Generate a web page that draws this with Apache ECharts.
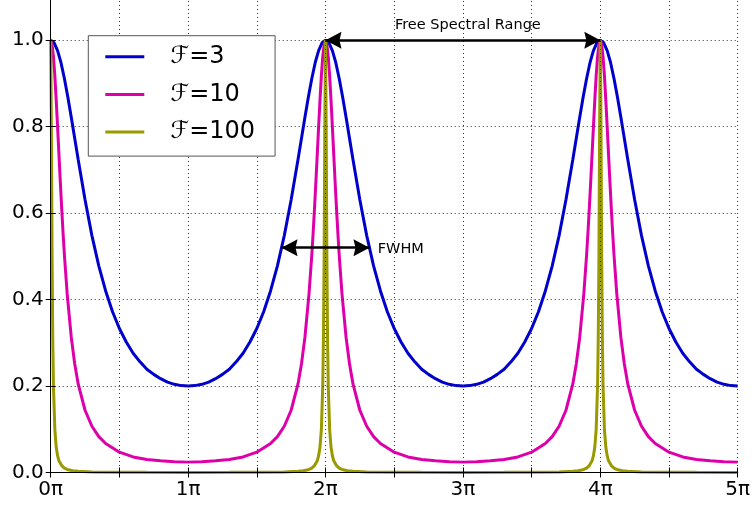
<!DOCTYPE html>
<html>
<head>
<meta charset="utf-8">
<title>Airy transmission</title>
<script src="https://cdn.jsdelivr.net/npm/echarts@6/dist/echarts.min.js"></script>
<style>
  html, body { margin: 0; padding: 0; background: #fff; }
  #chart { width: 755px; height: 507px; }
</style>
</head>
<body>
<div id="chart"></div>
<script>
// phase in units of pi, transmission
const seriesNames = ['ℱ=3', 'ℱ=10', 'ℱ=100'];

const phase3 = [
  0, 0.025, 0.05, 0.075, 0.1, 0.125, 0.15, 0.2, 0.25, 0.3, 0.35, 0.4, 0.45, 0.5, 0.55, 0.6, 0.65, 0.7, 0.75, 0.8, 0.85, 0.9, 0.95,
  1, 1.05, 1.1, 1.15, 1.2, 1.25, 1.3, 1.35, 1.4, 1.45, 1.5, 1.55, 1.6, 1.65, 1.7, 1.75, 1.8, 1.85, 1.875, 1.9, 1.925, 1.95, 1.975,
  2, 2.025, 2.05, 2.075, 2.1, 2.125, 2.15, 2.2, 2.25, 2.3, 2.35, 2.4, 2.45, 2.5, 2.55, 2.6, 2.65, 2.7, 2.75, 2.8, 2.85, 2.9, 2.95,
  3, 3.05, 3.1, 3.15, 3.2, 3.25, 3.3, 3.35, 3.4, 3.45, 3.5, 3.55, 3.6, 3.65, 3.7, 3.75, 3.8, 3.85, 3.875, 3.9, 3.925, 3.95, 3.975,
  4, 4.025, 4.05, 4.075, 4.1, 4.125, 4.15, 4.2, 4.25, 4.3, 4.35, 4.4, 4.45, 4.5, 4.55, 4.6, 4.65, 4.7, 4.75, 4.8, 4.85, 4.9, 4.95,
  5
];
const trans3 = [
  1.000, 0.994, 0.976, 0.948, 0.911, 0.868, 0.821, 0.724, 0.631, 0.548, 0.478, 0.420, 0.372, 0.333, 0.302, 0.276, 0.256, 0.239, 0.227, 0.217, 0.209, 0.204, 0.201,
  0.200, 0.201, 0.204, 0.209, 0.217, 0.227, 0.239, 0.256, 0.276, 0.302, 0.333, 0.372, 0.420, 0.478, 0.548, 0.631, 0.724, 0.821, 0.868, 0.911, 0.948, 0.976, 0.994,
  1.000, 0.994, 0.976, 0.948, 0.911, 0.868, 0.821, 0.724, 0.631, 0.548, 0.478, 0.420, 0.372, 0.333, 0.302, 0.276, 0.256, 0.239, 0.227, 0.217, 0.209, 0.204, 0.201,
  0.200, 0.201, 0.204, 0.209, 0.217, 0.227, 0.239, 0.256, 0.276, 0.302, 0.333, 0.372, 0.420, 0.478, 0.548, 0.631, 0.724, 0.821, 0.868, 0.911, 0.948, 0.976, 0.994,
  1.000, 0.994, 0.976, 0.948, 0.911, 0.868, 0.821, 0.724, 0.631, 0.548, 0.478, 0.420, 0.372, 0.333, 0.302, 0.276, 0.256, 0.239, 0.227, 0.217, 0.209, 0.204, 0.201,
  0.200
];

const phase10 = [
  0, 0.01, 0.02, 0.03, 0.04, 0.05, 0.06, 0.07, 0.08, 0.09, 0.1, 0.12, 0.15, 0.175, 0.2, 0.25, 0.3, 0.35, 0.4, 0.5, 0.6, 0.7, 0.8, 0.9, 1,
  1.1, 1.2, 1.3, 1.4, 1.5, 1.6, 1.65, 1.7, 1.75, 1.8, 1.825, 1.85, 1.88, 1.9, 1.91, 1.92, 1.93, 1.94, 1.95, 1.96, 1.97, 1.98, 1.99, 2,
  2.01, 2.02, 2.03, 2.04, 2.05, 2.06, 2.07, 2.08, 2.09, 2.1, 2.12, 2.15, 2.175, 2.2, 2.25, 2.3, 2.35, 2.4, 2.5, 2.6, 2.7, 2.8, 2.9, 3,
  3.1, 3.2, 3.3, 3.4, 3.5, 3.6, 3.65, 3.7, 3.75, 3.8, 3.825, 3.85, 3.88, 3.9, 3.91, 3.92, 3.93, 3.94, 3.95, 3.96, 3.97, 3.98, 3.99, 4,
  4.01, 4.02, 4.03, 4.04, 4.05, 4.06, 4.07, 4.08, 4.09, 4.1, 4.12, 4.15, 4.175, 4.2, 4.25, 4.3, 4.35, 4.4, 4.5, 4.6, 4.7, 4.8, 4.9, 5
];
const trans10 = [
  1.000, 0.990, 0.962, 0.918, 0.862, 0.800, 0.736, 0.672, 0.611, 0.554, 0.502, 0.413, 0.312, 0.251, 0.205, 0.144, 0.107, 0.083, 0.067, 0.047, 0.036, 0.030, 0.027, 0.025, 0.024,
  0.025, 0.027, 0.030, 0.036, 0.047, 0.067, 0.083, 0.107, 0.144, 0.205, 0.251, 0.312, 0.413, 0.502, 0.554, 0.611, 0.672, 0.736, 0.800, 0.862, 0.918, 0.962, 0.990, 1.000,
  0.990, 0.962, 0.918, 0.862, 0.800, 0.736, 0.672, 0.611, 0.554, 0.502, 0.413, 0.312, 0.251, 0.205, 0.144, 0.107, 0.083, 0.067, 0.047, 0.036, 0.030, 0.027, 0.025, 0.024,
  0.025, 0.027, 0.030, 0.036, 0.047, 0.067, 0.083, 0.107, 0.144, 0.205, 0.251, 0.312, 0.413, 0.502, 0.554, 0.611, 0.672, 0.736, 0.800, 0.862, 0.918, 0.962, 0.990, 1.000,
  0.990, 0.962, 0.918, 0.862, 0.800, 0.736, 0.672, 0.611, 0.554, 0.502, 0.413, 0.312, 0.251, 0.205, 0.144, 0.107, 0.083, 0.067, 0.047, 0.036, 0.030, 0.027, 0.025, 0.024
];

const phase100 = [
  0, 0.005, 0.01, 0.015, 0.02, 0.03, 0.04, 0.05, 0.06, 0.08, 0.1, 0.12, 0.16, 0.2, 0.3, 0.5, 0.7, 1,
  1.3, 1.5, 1.7, 1.8, 1.84, 1.88, 1.9, 1.92, 1.94, 1.95, 1.96, 1.97, 1.98, 1.985, 1.99, 1.995, 2,
  2.005, 2.01, 2.015, 2.02, 2.03, 2.04, 2.05, 2.06, 2.08, 2.1, 2.12, 2.16, 2.2, 2.3, 2.5, 2.7, 3,
  3.3, 3.5, 3.7, 3.8, 3.84, 3.88, 3.9, 3.92, 3.94, 3.95, 3.96, 3.97, 3.98, 3.985, 3.99, 3.995, 4,
  4.005, 4.01, 4.015, 4.02, 4.03, 4.04, 4.05, 4.06, 4.08, 4.1, 4.12, 4.16, 4.2, 4.3, 4.5, 4.7, 5
];
const trans100 = [
  1.000, 0.800, 0.500, 0.308, 0.200, 0.100, 0.059, 0.039, 0.027, 0.016, 0.010, 0.007, 0.004, 0.003, 0.001, 0.0005, 0.0003, 0.0002,
  0.0003, 0.0005, 0.001, 0.003, 0.004, 0.007, 0.010, 0.016, 0.027, 0.039, 0.059, 0.100, 0.200, 0.308, 0.500, 0.800, 1.000,
  0.800, 0.500, 0.308, 0.200, 0.100, 0.059, 0.039, 0.027, 0.016, 0.010, 0.007, 0.004, 0.003, 0.001, 0.0005, 0.0003, 0.0002,
  0.0003, 0.0005, 0.001, 0.003, 0.004, 0.007, 0.010, 0.016, 0.027, 0.039, 0.059, 0.100, 0.200, 0.308, 0.500, 0.800, 1.000,
  0.800, 0.500, 0.308, 0.200, 0.100, 0.059, 0.039, 0.027, 0.016, 0.010, 0.007, 0.004, 0.003, 0.001, 0.0005, 0.0003, 0.0002
];

// annotation anchors (data units)
const fsrSpan = [[2, 1.0], [4, 1.0]];
const fwhmSpan = [[1.68, 0.52], [2.32, 0.52]];
const fsrText = [3.036, 1.035];
const fwhmText = [2.38, 0.517];

const colors = ['#0000cc', '#dd00aa', '#999900'];
const fontFamily = '"DejaVu Sans", sans-serif';
const arrowHead = 'path://M5,0 L10,16 L5,14 L0,16 Z';

const zip = (xs, ys) => xs.map((x, i) => [x, ys[i]]);

const gridLine = {
  show: true,
  lineStyle: { color: '#333', width: 1, type: [1, 3] },
};

const tickStyle = { show: true, inside: true, length: 5, lineStyle: { color: '#000' } };
const spine = { show: true, lineStyle: { color: '#000', width: 1 } };

const chartOption = {
  animation: false,
  color: colors,
  textStyle: { fontFamily },
  grid: {
    left: 50.7, right: 17.3, top: -3, bottom: 34.5,
    outerBoundsMode: 'none',
  },
  legend: {
    orient: 'vertical',
    left: 88.3,
    top: 35.7,
    data: seriesNames,
    icon: 'rect',
    itemWidth: 39,
    itemHeight: 3,
    itemGap: 9.7,
    padding: [7, 20, 10, 17],
    backgroundColor: '#fff',
    borderColor: '#555',
    borderWidth: 1,
    selectedMode: false,
    textStyle: {
      fontSize: 24,
      lineHeight: 28,
      color: '#000',
      fontFamily,
      padding: [0, 0, 0, 21],
    },
  },
  xAxis: [
    {
      type: 'value',
      min: 0,
      max: 5,
      interval: 0.5,
      z: 3,
      axisLine: spine,
      axisTick: tickStyle,
      splitLine: gridLine,
      axisLabel: {
        fontSize: 20,
        color: '#000',
        margin: 7,
        fontFamily,
        formatter: (v) => (v % 1 === 0 ? `${v}π` : ''),
      },
    },
    {
      type: 'value',
      position: 'top',
      min: 0,
      max: 5,
      interval: 0.5,
      z: 3,
      axisLine: spine,
      axisTick: tickStyle,
      splitLine: { show: false },
      axisLabel: { show: false },
    },
  ],
  yAxis: [
    {
      type: 'value',
      min: 0,
      max: 1.1,
      interval: 0.2,
      z: 3,
      axisLine: spine,
      axisTick: tickStyle,
      splitLine: gridLine,
      axisLabel: {
        fontSize: 20,
        color: '#000',
        margin: 7,
        fontFamily,
        showMaxLabel: false,
        formatter: (v) => v.toFixed(1),
      },
    },
    {
      type: 'value',
      position: 'right',
      min: 0,
      max: 1.1,
      interval: 0.2,
      z: 3,
      axisLine: spine,
      axisTick: tickStyle,
      splitLine: { show: false },
      axisLabel: { show: false },
    },
  ],
  series: [
    {
      name: seriesNames[0],
      type: 'line',
      data: zip(phase3, trans3),
      showSymbol: false,
      lineStyle: { width: 3 },
      z: 2,
    },
    {
      name: seriesNames[1],
      type: 'line',
      data: zip(phase10, trans10),
      showSymbol: false,
      lineStyle: { width: 3 },
      z: 2,
    },
    {
      name: seriesNames[2],
      type: 'line',
      data: zip(phase100, trans100),
      showSymbol: false,
      lineStyle: { width: 3 },
      z: 2,
    },
    {
      name: 'annotations',
      type: 'line',
      data: [],
      z: 5,
      silent: true,
      markLine: {
        silent: true,
        symbol: [arrowHead, arrowHead],
        symbolSize: [17, 16],
        symbolOffset: [[0, 8], [0, 8]],
        lineStyle: { color: '#000', width: 2.5, type: 'solid' },
        label: { show: false },
        data: [
          [{ coord: fsrSpan[0] }, { coord: fsrSpan[1] }],
          [{ coord: fwhmSpan[0] }, { coord: fwhmSpan[1] }],
        ],
      },
      markPoint: {
        silent: true,
        symbol: 'circle',
        symbolSize: 0,
        data: [
          {
            coord: fsrText,
            label: {
              show: true, position: 'inside', formatter: 'Free Spectral Range',
              fontSize: 14.5, color: '#000', fontFamily,
            },
          },
          {
            coord: fwhmText,
            label: {
              show: true, position: 'right', distance: 0, formatter: 'FWHM',
              fontSize: 14.5, color: '#000', fontFamily,
            },
          },
        ],
      },
    },
  ],
};

const myChart = echarts.init(document.getElementById('chart'));
myChart.setOption(chartOption);
</script>
</body>
</html>
